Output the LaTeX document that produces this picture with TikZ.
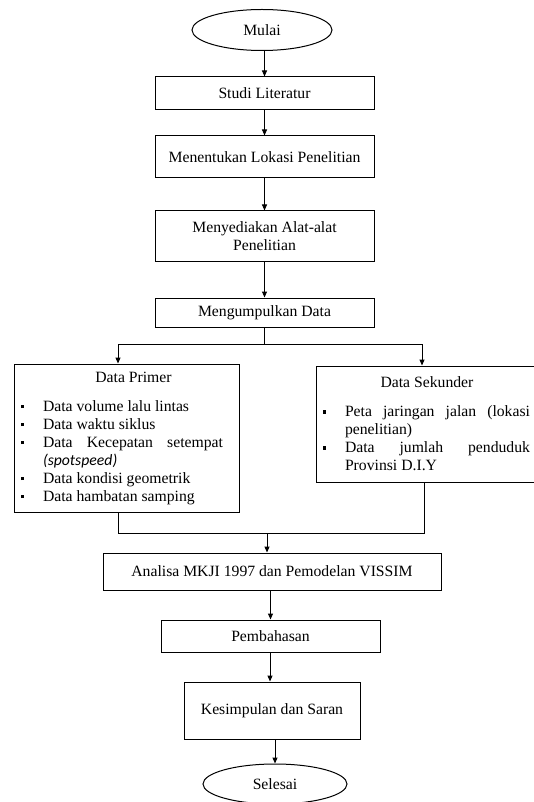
\documentclass[tikz,border=0pt]{standalone}
\usepackage{fontspec}
\setmainfont{Liberation Serif}
\newfontfamily\itsans{Carlito}
\usepackage{enumitem}
\usetikzlibrary{shapes.geometric,arrows.meta}

\tikzset{
  box/.style={draw, line width=1pt, rectangle, align=center, inner sep=4pt},
  term/.style={draw, line width=1pt, ellipse, inner sep=0pt},
  listbox/.style={box, align=justify, inner xsep=6pt, text width=#1},
  arr/.style={-{Triangle[length=6pt,width=5pt]}, line width=1pt},
  ln/.style={line width=1pt}
}
\newcommand{\sqbullet}{\rule[3pt]{3.5pt}{3.5pt}}
\setlist[itemize]{label=\sqbullet, leftmargin=23pt, labelsep=19pt,
  itemsep=0pt, parsep=0pt, topsep=11pt, partopsep=0pt}

\begin{document}
\begin{tikzpicture}[x=1pt, y=-1pt, font=\fontsize{15.7}{18}\selectfont]
  \useasboundingbox (0,0) rectangle (533,802);
  % top chain
  \node[term, minimum width=140pt, minimum height=41pt] (mulai) at (262,30) {Mulai};
  \node[box, minimum width=219pt, minimum height=33pt] (studi) at (264.5,93.5) {Studi Literatur};
  \node[box, minimum width=219pt, minimum height=42pt] (lokasi) at (264.5,157) {Menentukan Lokasi Penelitian};
  \node[box, minimum width=219pt, minimum height=50pt] (alat) at (264.5,236) {Menyediakan Alat-alat\\Penelitian};
  \node[box, minimum width=219pt, minimum height=29pt] (kumpul) at (264.5,312.5) {Mengumpulkan Data};
  % data boxes
  \node[listbox=213pt, minimum width=225pt, minimum height=148pt] (primer) at (126.5,438) {%
    {\centering\hspace*{14pt}Data Primer\par}
    \begin{itemize}[rightmargin=10pt]
      \item Data volume lalu lintas
      \item Data waktu siklus
      \item Data Kecepatan setempat\linebreak {\itsans\itshape (spotspeed)}
      \item Data kondisi geometrik
      \item Data hambatan samping
    \end{itemize}};
  \node[listbox=210pt, minimum width=222pt, minimum height=116pt] (sekunder) at (427,424) {%
    {\centering Data Sekunder\par}
    \begin{itemize}[rightmargin=2pt]
      \item Peta jaringan jalan (lokasi\linebreak penelitian)
      \item Data jumlah penduduk\linebreak Provinsi D.I.Y
    \end{itemize}};
  % bottom chain
  \node[box, minimum width=338pt, minimum height=37pt] (analisa) at (272,571.5) {Analisa MKJI 1997 dan Pemodelan VISSIM};
  \node[box, minimum width=219pt, minimum height=32pt] (bahas) at (270.5,636) {Pembahasan};
  \node[box, minimum width=176pt, minimum height=57pt] (simpul) at (272,710.5) {Kesimpulan dan Saran};
  \node[term, minimum width=144pt, minimum height=40pt] (selesai) at (275,784) {Selesai};

  \coordinate (split) at (264.5,344);
  \coordinate (join) at (267,533);

  \draw[arr] (studi.north |- mulai.south) -- (studi.north);
  \draw[arr] (studi) -- (lokasi);
  \draw[arr] (lokasi) -- (alat);
  \draw[arr] (alat) -- (kumpul);
  \begin{scope}[arr]
    \draw (kumpul.south) -- (split) -| ([xshift=-8.5pt]primer.north);
    \draw (kumpul.south) -- (split) -| ([xshift=-5pt]sekunder.north);
  \end{scope}
  \begin{scope}[ln]
    \draw ([xshift=-8.5pt]primer.south) |- (join);
    \draw ([xshift=-3pt]sekunder.south) |- (join);
  \end{scope}
  \draw[arr] (join) -- (join |- analisa.north);
  \draw[arr] (analisa.south -| bahas) -- (bahas.north);
  \draw[arr] (bahas.south -| 270,0) -- (simpul.north -| 270,0);
  \draw[arr] (simpul.south -| selesai) -- (selesai.north);
\end{tikzpicture}
\end{document}
